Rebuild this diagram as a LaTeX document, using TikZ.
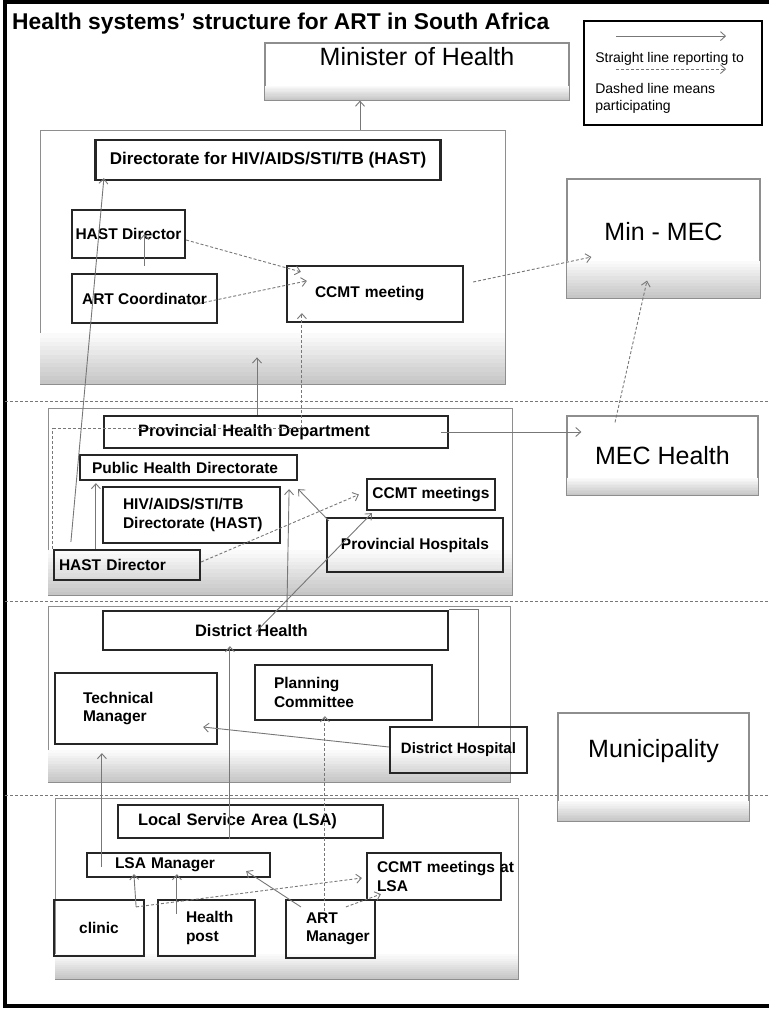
\documentclass[tikz,border=0pt]{standalone}
\usepackage{fontspec}
\setmainfont{Liberation Sans}
\usetikzlibrary{arrows.meta}

\definecolor{hsLine}{HTML}{777777}
\definecolor{hsFrame}{HTML}{8E8E8E}
\definecolor{hsShade}{HTML}{C6C6C6}

% stepped grey band along the bottom of a node: node, band height, inset
\newcommand{\bandfill}[3]{%
  \foreach \k in {1,...,12}{%
    \pgfmathsetmacro{\bandtop}{#2*(13-\k)/12}%
    \pgfmathtruncatemacro{\bandpct}{\k*100/12}%
    \fill[hsShade!\bandpct] ([xshift=#3,yshift=\bandtop]#1.south west) rectangle ([xshift=-#3,yshift=#3]#1.south east);}}

\tikzset{
  orgBox/.style={draw=black!85, line width=2.2pt, inner sep=0pt,
    font=\fontsize{15.5}{18.5}\selectfont\bfseries},
  leftBox/.style={orgBox, align=left, inner xsep=#1},
  govBox/.style={draw=hsFrame, line width=1.2pt, inner sep=0pt,
    font=\fontsize{25}{30}\selectfont},
  levelArea/.style={draw=hsFrame, line width=0.8pt},
  repArrow/.style={draw=hsLine, line width=0.9pt, -{Straight Barb[length=5pt,width=9pt]}},
  partArrow/.style={repArrow, dash pattern=on 3pt off 2pt},
  plainLine/.style={draw=hsLine, line width=0.9pt},
  levelSep/.style={draw=hsLine, line width=0.9pt, dash pattern=on 3pt off 2pt},
  bigLbl/.style={font=\fontsize{16.5}{19}\selectfont\bfseries}
}

\begin{document}
\begin{tikzpicture}[x=1pt, y=1pt]
\useasboundingbox (0,0) rectangle (769,-1009);
% page frame
\draw[line width=3.5pt] (769,-2) -- (5,-2) -- (5,-1006) -- (769,-1006);
\node[anchor=base west, inner sep=0pt, font=\fontsize{22.8}{26}\selectfont\bfseries] (title) at (12,-29)
  {Health systems’ structure for ART in South Africa};

% level areas
\node[levelArea, minimum width=465, minimum height=254] (topreg) at (272.5,-257) {};
\node[levelArea, minimum width=464, minimum height=187] (provreg) at (280,-501.5) {};
\node[levelArea, minimum width=462, minimum height=176] (distreg) at (279,-694) {};
\node[levelArea, minimum width=463, minimum height=181] (lsareg) at (286.5,-888.5) {};
\bandfill{topreg}{51}{0.5}
\bandfill{provreg}{45}{0.5}
\bandfill{distreg}{32}{0.5}
\bandfill{lsareg}{25}{0.5}
\foreach \y in {401,601,795}
  \draw[levelSep] (5,-\y) -- (769,-\y);

% legend
\node[draw=black, line width=1.8pt, minimum width=178, minimum height=104] (legend) at (673,-73) {};
\draw[repArrow] ([xshift=33,yshift=-16]legend.north west) -- ([xshift=143,yshift=-16]legend.north west);
\draw[partArrow] ([xshift=33,yshift=-49]legend.north west) -- ([xshift=143,yshift=-49]legend.north west);
\node[anchor=base west, inner sep=0pt, font=\fontsize{14}{16}\selectfont] (lgrep) at ([xshift=12,yshift=-42]legend.north west)
  {Straight line reporting to};
\node[anchor=base west, inner sep=0pt, align=left, font=\fontsize{14}{16.5}\selectfont] (lgpart) at ([xshift=12,yshift=-90]legend.north west)
  {Dashed line means\\participating};

% national / provincial government
\node[govBox, minimum width=304, minimum height=57, text depth=31pt] (minister) at (417,-71.5) {Minister of Health};
\node[govBox, minimum width=193, minimum height=119, text depth=15pt] (minmec) at (663.5,-238.5) {Min - MEC};
\node[govBox, minimum width=191, minimum height=79] (mech) at (662.5,-455.5) {MEC Health};
\node[govBox, minimum width=191, minimum height=108, text depth=38pt] (muni) at (653.5,-767) {Municipality};
\bandfill{minister}{15}{0.7}
\bandfill{minmec}{38}{0.7}
\bandfill{mech}{18}{0.7}
\bandfill{muni}{21}{0.7}

% national department
\node[orgBox, font=\fontsize{17}{19}\selectfont\bfseries, minimum width=345, minimum height=40] (hast) at (268,-160) {Directorate for HIV/AIDS/STI/TB (HAST)};
\node[orgBox, minimum width=113, minimum height=48] (hdnat) at (128.5,-234) {HAST Director};
\node[orgBox, minimum width=145, minimum height=49] (artc) at (144.5,-298.5) {ART Coordinator};
\node[leftBox=28pt, minimum width=176, minimum height=56, text width=120pt] (ccmt) at (375,-294) {CCMT meeting};

% provincial department
\node[leftBox=34pt, bigLbl, minimum width=344, minimum height=32, text width=276pt] (phd) at (276,-432) {Provincial Health Department};
\node[leftBox=12pt, minimum width=217, minimum height=25, text width=193pt] (phdir) at (188.5,-467.5) {Public Health Directorate};
\node[leftBox=20pt, minimum width=177, minimum height=56, text width=137pt] (hastp) at (191.5,-515)
  {HIV/AIDS/STI/TB\\\mbox{Directorate (HAST)}};
\node[leftBox=5pt, minimum width=146, minimum height=30, text width=136pt] (hdprov) at (127,-565) {HAST Director};
\node[orgBox, minimum width=128, minimum height=31] (ccmtp) at (431,-494.5) {CCMT meetings};
\node[orgBox, minimum width=176, minimum height=54] (phosp) at (415,-545) {Provincial Hospitals};

% district
\node[leftBox=92pt, bigLbl, minimum width=345, minimum height=39, text width=161pt] (dh) at (275.5,-630.5) {District Health};
\node[leftBox=28pt, minimum width=162, minimum height=71, text width=106pt] (tm) at (136,-708.5) {Technical\\Manager};
\node[leftBox=19pt, minimum width=177, minimum height=55, text width=139pt] (pc) at (343.5,-692.5) {Planning\\Committee};
\node[orgBox, minimum width=137, minimum height=46, font=\fontsize{15}{17}\selectfont\bfseries] (dhosp) at (458.5,-750) {District Hospital};

% local service area
\node[leftBox=20pt, bigLbl, minimum width=265, minimum height=33, text width=225pt] (lsa) at (250.5,-821.5) {Local Service Area (LSA)};
\node[leftBox=28pt, minimum width=183, minimum height=24, text width=127pt] (lsam) at (178.5,-865) {LSA Manager};
\node[leftBox=10pt, minimum width=134, minimum height=47, text width=114pt] (ccmtl) at (434,-876.5) {\mbox{CCMT meetings at}\\LSA};
\node[orgBox, minimum width=90, minimum height=56] (clinic) at (99,-928) {clinic};
\node[leftBox=28pt, minimum width=97, minimum height=56, text width=41pt] (hpost) at (206.5,-928) {Health\\post};
\node[leftBox=20pt, minimum width=89, minimum height=58, text width=49pt] (artm) at (330.5,-929) {ART\\Manager};

% connectors: national
\draw[repArrow] ([xshift=87.5]topreg.north) -- ([xshift=-57]minister.south);
\draw[repArrow] ([xshift=18,yshift=7]hdprov.north west) -- ([xshift=9.5,yshift=3]hast.south west);
\draw[repArrow] ([yshift=7]artc.north) -- (artc.north |- hdnat.center);
\draw[partArrow] ([yshift=-6]hdnat.east) -- ([xshift=15,yshift=-7]ccmt.north west);
\draw[partArrow] ([xshift=-24,yshift=-6]artc.east) -- ([xshift=21,yshift=-16]ccmt.north west);
\draw[partArrow] ([xshift=9,yshift=12]ccmt.east) -- ([xshift=25,yshift=-18.5]minmec.west);
% connectors: provincial
\draw[repArrow] ([xshift=-19]phd.north) -- ([xshift=-15.5,yshift=27]topreg.south);
\draw[partArrow] (hdprov.north west) -- ++(0,120) -| ([xshift=16,yshift=10]ccmt.south west);
\draw[repArrow] ([xshift=-8]phd.east) -- ([xshift=15,yshift=23.5]mech.west);
\draw[partArrow] ([xshift=-47.5,yshift=-7]mech.north) -- ([xshift=-16.5,yshift=18]minmec.south);
\draw[repArrow] ([xshift=43]hdprov.north west) -- ([xshift=17,yshift=-2]phdir.south west);
\draw[partArrow] ([yshift=3]hdprov.east) -- ([xshift=-7]ccmtp.west);
\draw[repArrow] ([xshift=3,yshift=-4]phosp.north west) -- ([yshift=-8]phdir.south east);
% connectors: district
\draw[repArrow] ([xshift=185]dh.north west) -- ([xshift=-9,yshift=-8]phdir.south east);
\draw[repArrow] ([xshift=154,yshift=-22]dh.north west) -- ([xshift=6,yshift=-2]ccmtp.south west);
\draw[repArrow] ([yshift=3]dhosp.west) -- ([xshift=-15,yshift=-18.5]tm.east);
\draw[plainLine] ([xshift=19.5]dhosp.north) |- (dh.north east);
% connectors: local service area
\draw[repArrow] ([xshift=16,yshift=-2]lsam.west) -- ([xshift=48,yshift=-8]tm.south west);
\draw[repArrow] ([xshift=113]lsa.south west) -- ([xshift=128,yshift=5]dh.south west);
\draw[partArrow] ([xshift=40,yshift=-12]artm.north west) -- ([xshift=71,yshift=5]pc.south west);
\draw[repArrow] ([xshift=-9,yshift=-8]clinic.north east) -- ([xshift=48,yshift=4]lsam.south west);
\draw[repArrow] ([xshift=20,yshift=-15]hpost.north west) -- ([xshift=91,yshift=4]lsam.south west);
\draw[partArrow] ([xshift=-9,yshift=-8]clinic.north east) -- ([xshift=-4,yshift=-1.5]ccmtl.west);
\draw[repArrow] ([xshift=16,yshift=-8]artm.north west) -- ([xshift=-25,yshift=7]lsam.south east);
\draw[partArrow] ([xshift=61,yshift=-8]artm.north west) -- ([xshift=15,yshift=7]ccmtl.south west);
\end{tikzpicture}
\end{document}
